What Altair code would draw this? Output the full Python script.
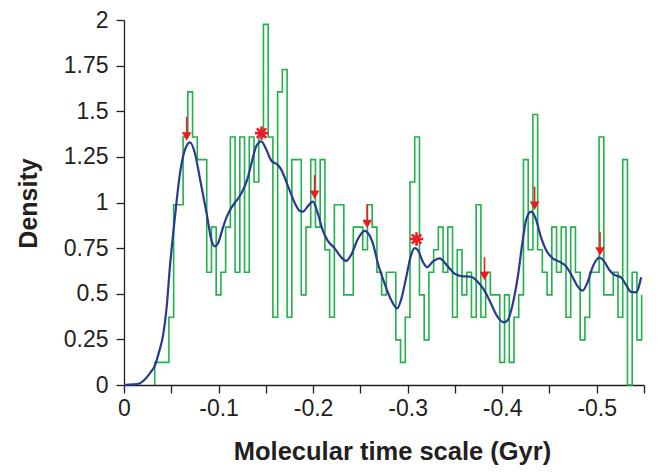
import altair as alt
import pandas as pd

GREEN = "#1fb14b"
BLUE = "#2b3990"
RED = "#ed1c24"
INK = "#231f20"
FONT = "Liberation Sans"

# Histogram (bins of 0.005 Gyr, first bin starting at -0.0325), density per bin
bin_start = 0.0325
bin_width = 0.005
hist_density = [
    0.124, 0.124, 0.124, 0.371, 0.988, 0.988, 1.359, 1.606, 1.359, 1.235,
    1.235, 0.618, 0.865, 0.494, 0.618, 0.865, 1.359, 0.618, 1.359, 0.618,
    1.359, 1.112, 1.359, 1.976, 1.359, 0.371, 1.606, 1.729, 0.371, 1.235,
    1.235, 0.494, 0.865, 1.235, 0.865, 1.235, 0.741, 0.371, 0.988, 0.988,
    0.494, 0.494, 0.865, 0.865, 0.741, 0.988, 0.865, 0.618, 0.494, 0.618,
    0.618, 0.247, 0.124, 0.371, 1.112, 1.359, 0.494, 0.247, 0.618, 0.741,
    0.865, 0.618, 0.865, 0.371, 0.741, 0.494, 0.618, 0.371, 0.988, 0.371,
    0.618, 0.494, 0.494, 0.124, 0.494, 0.124, 0.371, 0.494, 1.235, 0.741,
    1.482, 0.741, 0.618, 0.494, 0.865, 0.618, 0.865, 0.371, 0.865, 0.618,
    0.247, 0.371, 0.618, 0.618, 1.359, 0.494, 0.494, 0.618, 0.371, 1.235,
    0.000, 0.618, 0.247, 0.494,
]

# Smoothed density curve (age magnitude in Gyr, density)
kde_age = [
    0.000, 0.010, 0.017, 0.023, 0.0275, 0.033, 0.037, 0.0416, 0.045, 0.0486,
    0.052, 0.0555, 0.0592, 0.0645, 0.0698, 0.075, 0.080, 0.0874, 0.0927, 0.096,
    0.0997, 0.1045, 0.1085, 0.1173, 0.1205, 0.126, 0.130, 0.1346, 0.140, 0.1452,
    0.1505, 0.1557, 0.1628, 0.1663, 0.1734, 0.1804, 0.1857, 0.1892, 0.1945, 0.1998,
    0.205, 0.210, 0.2156, 0.2227, 0.2297, 0.235, 0.240, 0.2474, 0.2544, 0.2597,
    0.263, 0.2685, 0.2756, 0.2826, 0.289, 0.293, 0.2985, 0.303, 0.3073, 0.3108,
    0.316, 0.3206, 0.3266, 0.3337, 0.3425, 0.3496, 0.3566, 0.367, 0.374, 0.381,
    0.388, 0.395, 0.4017, 0.406, 0.411, 0.4165, 0.4218, 0.4253, 0.4306, 0.436,
    0.441, 0.4464, 0.4535, 0.4605, 0.4676, 0.4746, 0.480, 0.485, 0.4905, 0.4958,
    0.503, 0.508, 0.5134, 0.5187, 0.5257, 0.531, 0.5363, 0.5416, 0.547,
]
kde_density = [
    0.000, 0.003, 0.010, 0.035, 0.065, 0.110, 0.180, 0.280, 0.420, 0.650,
    0.830, 1.000, 1.160, 1.290, 1.330, 1.270, 1.140, 0.940, 0.790, 0.760,
    0.780, 0.860, 0.920, 1.000, 1.020, 1.070, 1.120, 1.210, 1.310, 1.335,
    1.290, 1.230, 1.205, 1.180, 1.090, 1.000, 0.955, 0.950, 0.980, 1.005,
    0.940, 0.850, 0.790, 0.750, 0.700, 0.680, 0.710, 0.800, 0.845, 0.820,
    0.780, 0.667, 0.557, 0.466, 0.420, 0.466, 0.590, 0.700, 0.750, 0.740,
    0.676, 0.645, 0.676, 0.694, 0.650, 0.610, 0.597, 0.593, 0.566, 0.520,
    0.448, 0.374, 0.343, 0.356, 0.440, 0.593, 0.795, 0.904, 0.950, 0.904,
    0.810, 0.740, 0.694, 0.676, 0.650, 0.590, 0.539, 0.517, 0.566, 0.648,
    0.698, 0.676, 0.630, 0.603, 0.590, 0.548, 0.510, 0.508, 0.590,
]

# Red arrows: position, top of shaft, tip
arrow_age = [0.0663, 0.2016, 0.2572, 0.3813, 0.4343, 0.5035]
arrow_top = [1.47, 1.15, 0.99, 0.70, 1.087, 0.84]
arrow_tip = [1.335, 1.015, 0.855, 0.57, 0.955, 0.705]

# Red asterisks
star_age = [0.1455, 0.3094]
star_density = [1.38, 0.80]

# ---- build tables ----
hist_rows = [{"x": -bin_start, "y": 0.0, "o": 0}]
for j, d in enumerate(hist_density):
    hist_rows.append({"x": -round(bin_start + bin_width * j, 4), "y": d, "o": j + 1})
hist_df = pd.DataFrame(hist_rows)

kde_df = pd.DataFrame({"x": [-a for a in kde_age], "y": kde_density,
                       "o": list(range(len(kde_age)))})

arrow_df = pd.DataFrame({
    "x": [-a for a in arrow_age],
    "top": arrow_top,
    "shaft": [t + 0.035 for t in arrow_tip],
    "head": [t + 0.027 for t in arrow_tip],
})
star_df = pd.DataFrame({"x": [-a for a in star_age], "y": star_density})

x_ticks = [0, -0.05, -0.1, -0.15, -0.2, -0.25, -0.3, -0.35, -0.4, -0.45, -0.5, -0.55]
y_ticks = [0, 0.25, 0.5, 0.75, 1, 1.25, 1.5, 1.75, 2]

x_scale = alt.Scale(domain=[0, -0.55], nice=False, zero=False)
y_scale = alt.Scale(domain=[0, 2], nice=False)

x_axis = alt.Axis(
    values=x_ticks,
    labelExpr="abs(datum.value*10 - round(datum.value*10)) < 0.001 ? "
              "(datum.value == 0 ? '0' : '-' + format(-datum.value, '.1f')) : ''",
    title="Molecular time scale (Gyr)",
    titleX=268, titleY=74, titleAlign="center", titleBaseline="alphabetic",
    titleFontSize=25.5, titleFontWeight="bold", titleFont=FONT, titleColor=INK,
    labelFontSize=23, labelFont=FONT, labelColor=INK, labelPadding=4,
    tickSize=8, tickColor=INK, tickWidth=1.3, domainColor=INK, domainWidth=1.3,
    grid=False, labelFlush=False, labelOverlap=False,
)
y_axis = alt.Axis(
    values=y_ticks, format=".2~f",
    title="Density",
    titleX=-88, titleY=183, titleAngle=270, titleAlign="center",
    titleBaseline="alphabetic",
    titleFontSize=25, titleFontWeight="bold", titleFont=FONT, titleColor=INK,
    labelFontSize=23, labelFont=FONT, labelColor=INK, labelPadding=8,
    tickSize=8, tickColor=INK, tickWidth=1.3, domainColor=INK, domainWidth=1.3,
    grid=False, labelFlush=False, labelOverlap=False,
)

hist = alt.Chart(hist_df).mark_line(
    interpolate="step-after", color=GREEN, strokeWidth=1.6
).encode(
    x=alt.X("x:Q", scale=x_scale, axis=x_axis),
    y=alt.Y("y:Q", scale=y_scale, axis=y_axis),
    order="o:Q",
)

kde = alt.Chart(kde_df).mark_line(
    interpolate="monotone", color=BLUE, strokeWidth=2.2
).encode(x="x:Q", y="y:Q", order="o:Q")

shafts = alt.Chart(arrow_df).mark_rule(color=RED, strokeWidth=1.6).encode(
    x="x:Q", y="top:Q", y2="shaft:Q"
)
heads = alt.Chart(arrow_df).mark_point(
    shape="triangle-down", filled=True, color=RED, size=95, opacity=1
).encode(x="x:Q", y="head:Q")

star_path = "M0,-1L0,1M-1,0L1,0M-0.7,-0.7L0.7,0.7M-0.7,0.7L0.7,-0.7"
stars = alt.Chart(star_df).mark_point(
    shape=star_path, filled=False, stroke=RED, strokeWidth=2.6, size=180, opacity=1
).encode(x="x:Q", y="y:Q")

chart = alt.layer(hist, kde, shafts, heads, stars).properties(
    width=520, height=365,
    autosize=alt.AutoSizeParams(type="none"),
    padding={"left": 116, "top": 12, "right": 6, "bottom": 81},
).configure_view(stroke=None)

chart.save("out.html", embed_options={"renderer": "svg", "actions": False})
